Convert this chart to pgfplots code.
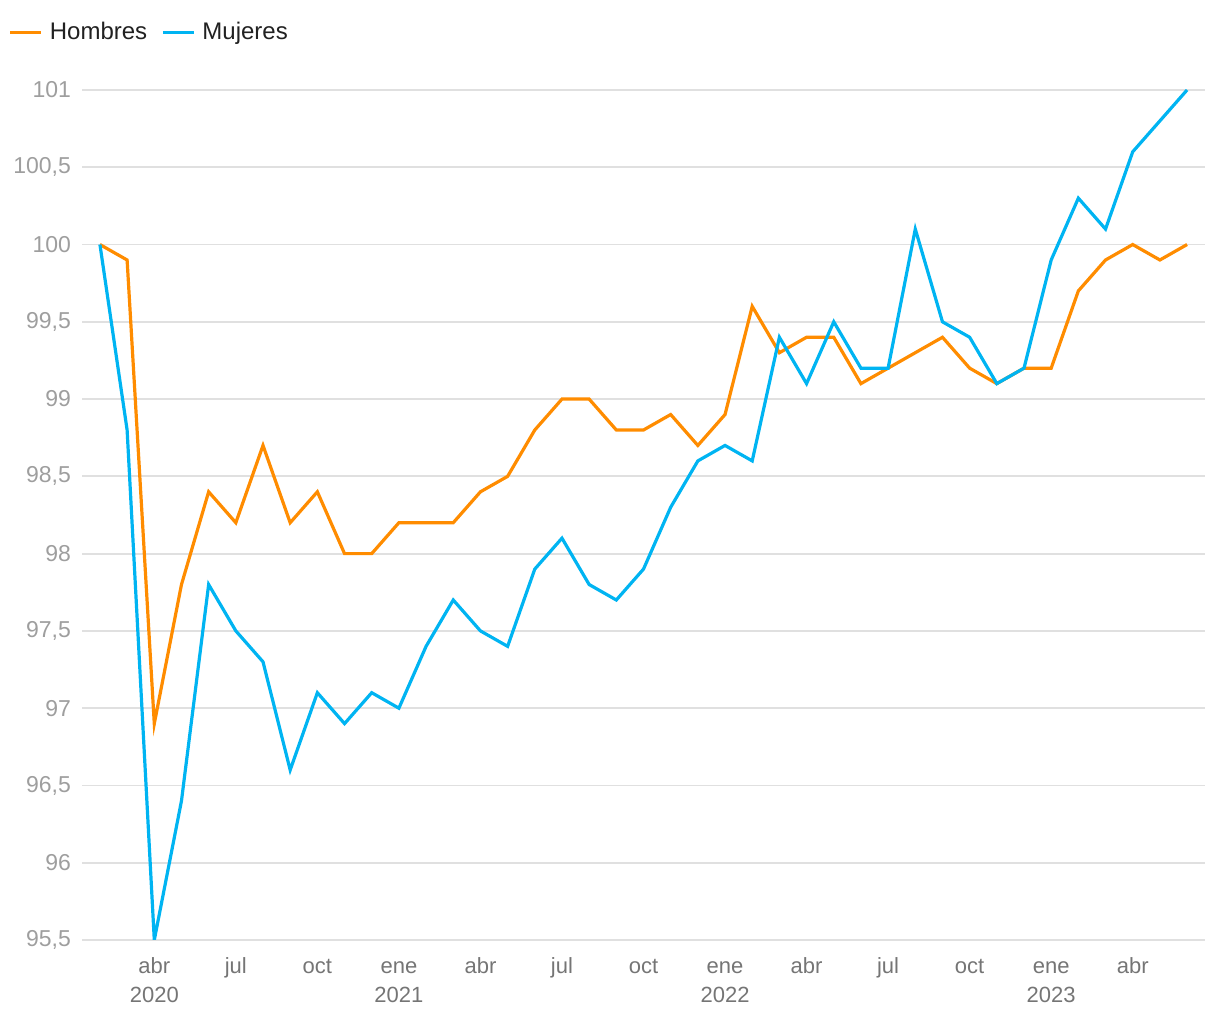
\documentclass[border=0pt]{standalone}
\usepackage{pgfplots}
\pgfplotsset{compat=1.18}
\usepackage{fontspec}
\setmainfont{Liberation Sans}
\definecolor{hom}{HTML}{FF8C00}
\definecolor{muj}{HTML}{00B4F2}
\definecolor{gridc}{HTML}{E0E0E0}
\definecolor{ytc}{HTML}{9E9E9E}
\definecolor{xtc}{HTML}{757575}
\definecolor{legc}{HTML}{212121}
\begin{document}
\begin{tikzpicture}
\useasboundingbox (-41pt,-40pt) rectangle (569pt,470pt);
\begin{axis}[
  at={(0,0)}, anchor=south west,
  scale only axis,
  width=561.5pt, height=425pt,
  xmin=-0.66, xmax=40.66,
  ymin=95.5, ymax=101,
  axis line style={draw=none},
  tick style={draw=none},
  ytick={95.5,96,96.5,97,97.5,98,98.5,99,99.5,100,100.5,101},
  ymajorgrids,
  grid style={gridc, line width=0.9pt},
  xtick={2,5,8,11,14,17,20,23,26,29,32,35,38},
  xticklabels={\strut abr\\2020,\strut jul,\strut oct,\strut ene\\2021,\strut abr,\strut jul,\strut oct,\strut ene\\2022,\strut abr,\strut jul,\strut oct,\strut ene\\2023,\strut abr},
  xticklabel style={align=center, font=\fontsize{11}{14.5}\selectfont, text=xtc, anchor=north, yshift=-3pt},
  yticklabel style={font=\fontsize{11.5}{12}\selectfont, text=ytc, xshift=-2pt},
  /pgf/number format/assume math mode=true,
  /pgf/number format/use comma,
  /pgf/number format/1000 sep={},
  legend columns=2,
  legend style={at={(-0.071,1.068)}, anchor=west, draw=none, fill=none,
    font=\fontsize{12}{14}\selectfont, text=legc,
    /tikz/every even column/.append style={column sep=5pt}},
  legend image code/.code={\draw[#1] (0pt,0pt) -- (15.5pt,0pt); \path (17pt,0pt);},
]
\addplot[hom, line width=1.6pt] coordinates {
(0,100) (1,99.9) (2,96.9) (3,97.8) (4,98.4) (5,98.2) (6,98.7) (7,98.2) (8,98.4) (9,98.0) (10,98.0)
(11,98.2) (12,98.2) (13,98.2) (14,98.4) (15,98.5) (16,98.8) (17,99.0) (18,99.0) (19,98.8) (20,98.8) (21,98.9) (22,98.7)
(23,98.9) (24,99.6) (25,99.3) (26,99.4) (27,99.4) (28,99.1) (29,99.2) (30,99.3) (31,99.4) (32,99.2) (33,99.1) (34,99.2)
(35,99.2) (36,99.7) (37,99.9) (38,100.0) (39,99.9) (40,100.0)
};
\addlegendentry{Hombres}
\addplot[muj, line width=1.6pt] coordinates {
(0,100) (1,98.8) (2,95.5) (3,96.4) (4,97.8) (5,97.5) (6,97.3) (7,96.6) (8,97.1) (9,96.9) (10,97.1)
(11,97.0) (12,97.4) (13,97.7) (14,97.5) (15,97.4) (16,97.9) (17,98.1) (18,97.8) (19,97.7) (20,97.9) (21,98.3) (22,98.6)
(23,98.7) (24,98.6) (25,99.4) (26,99.1) (27,99.5) (28,99.2) (29,99.2) (30,100.1) (31,99.5) (32,99.4) (33,99.1) (34,99.2)
(35,99.9) (36,100.3) (37,100.1) (38,100.6) (39,100.8) (40,101.0)
};
\addlegendentry{Mujeres}
\end{axis}
\end{tikzpicture}
\end{document}
